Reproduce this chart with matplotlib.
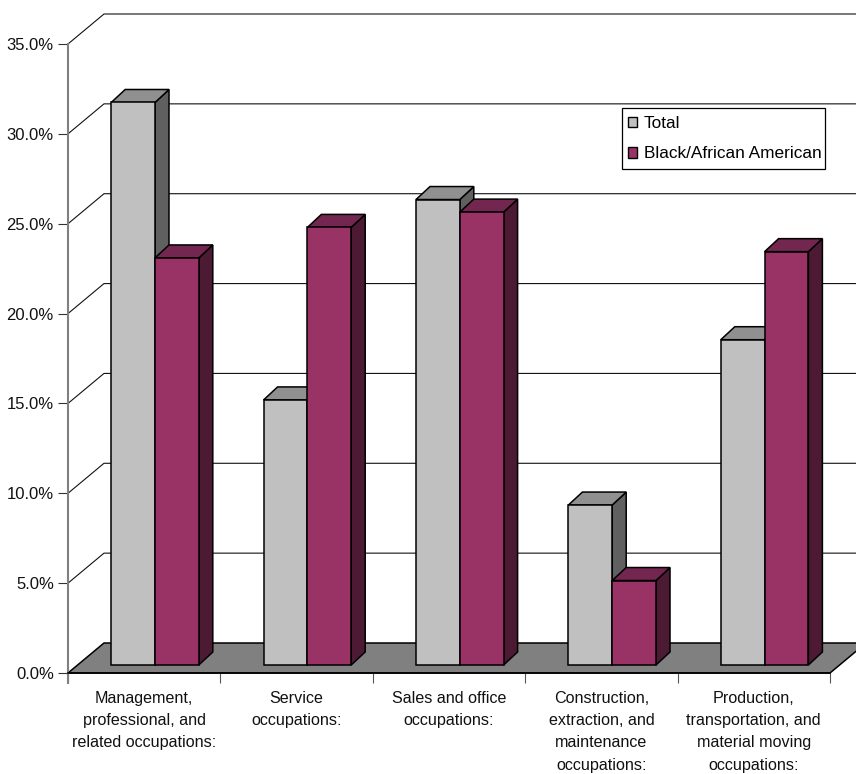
import matplotlib
matplotlib.use('Agg')
import matplotlib.pyplot as plt
from matplotlib.patches import Patch, Polygon, Rectangle

plt.rcParams['font.family'] = ['Liberation Sans', 'DejaVu Sans']

categories = ['Management,\nprofessional, and\nrelated occupations:',
              'Service\noccupations:',
              'Sales and office\noccupations:',
              'Construction,\nextraction, and\nmaintenance\noccupations:',
              'Production,\ntransportation, and\nmaterial moving\noccupations:']
total = [31.3, 14.75, 25.9, 8.9, 18.1]
black = [22.65, 24.35, 25.2, 4.7, 23.0]
yticks = [0, 5, 10, 15, 20, 25, 30, 35]

W, H = 856, 774
fig = plt.figure(figsize=(W / 100, H / 100), dpi=100, facecolor='white')
ax = fig.add_axes([68 / W, (H - 673) / H, (830 - 68) / W, (673 - 44) / H])
ax.set_xlim(0, 5)
ax.set_ylim(0, 35)
ax.patch.set_visible(False)

# pixel sizes turned into data units
ux = (830 - 68) / 5
uy = (673 - 44) / 35
wall_dx, wall_dy = 36 / ux, 30 / uy
base_dx, base_dy = 9.6 / ux, 8 / uy
side_dx, side_dy = 14 / ux, 13 / uy
gap = 33.6 / ux
bw = 43.8 / ux


def poly(pts, fc, ec='black', lw=1.1, z=3):
    ax.add_patch(Polygon(pts, closed=True, facecolor=fc, edgecolor=ec, linewidth=lw,
                         zorder=z, clip_on=False, joinstyle='miter'))


# back wall gridlines
for t in yticks:
    if t > 0:
        ax.plot([0, wall_dx, 5.3], [t, t + wall_dy, t + wall_dy], color='#111111', lw=0.8,
                zorder=1, clip_on=False)

# floor
poly([(0, 0), (wall_dx, wall_dy), (5 + wall_dx, wall_dy), (5, 0)], '#808080', z=2)


def draw_bar(x, v, front, top, side, z):
    y0 = base_dy
    poly([(x + bw, y0), (x + bw + side_dx, y0 + side_dy),
          (x + bw + side_dx, y0 + v + side_dy), (x + bw, y0 + v)], side, z=z)
    poly([(x, y0 + v), (x + side_dx, y0 + v + side_dy),
          (x + bw + side_dx, y0 + v + side_dy), (x + bw, y0 + v)], top, z=z)
    ax.bar(x, v, width=bw, bottom=y0, align='edge', color=front, edgecolor='black',
           linewidth=1.1, zorder=z, clip_on=False)


for i in range(5):
    x = i + base_dx + gap
    draw_bar(x, total[i], '#c0c0c0', '#909090', '#606060', 3 + i * 0.1)
    draw_bar(x + bw, black[i], '#993366', '#732650', '#4d1a33', 3.05 + i * 0.1)

for s in ['top', 'right']:
    ax.spines[s].set_visible(False)
ax.spines['left'].set_color('#808080')
ax.spines['left'].set_linewidth(1.5)
ax.spines['left'].set_bounds(0, 35)
ax.spines['bottom'].set_color('black')
ax.spines['bottom'].set_linewidth(1.2)
ax.spines['bottom'].set_zorder(2.5)

ax.set_yticks(yticks)
ax.set_yticklabels(['%.1f%%' % t for t in yticks], fontsize=12, color='#111111')
ax.tick_params(axis='y', length=7.2, width=0.8, color='#333333', pad=3)
ax.set_xticks(range(6))
ax.set_xticklabels([])
ax.tick_params(axis='x', which='major', length=7.2, width=0.8, color='#555555')
ax.plot([0, 0], [0, -10 / uy], color='#808080', lw=1.5, clip_on=False, zorder=2)
ax.set_xticks([i + 0.5 for i in range(5)], categories, minor=True, fontsize=11.6,
              color='#111111', linespacing=1.6, va='top')
ax.tick_params(axis='x', which='minor', length=0, pad=13)

# legend box is wider than tall padding allows, so the frame is its own patch
fig.add_artist(Rectangle((621.5 / W, 1 - 169 / H), 203.5 / W, 61 / H, transform=fig.transFigure,
                         facecolor='white', edgecolor='black', linewidth=0.9, zorder=5))
handles = [Patch(facecolor='#c0c0c0', edgecolor='black', label='Total'),
           Patch(facecolor='#993366', edgecolor='black', label='Black/African American')]
leg = fig.legend(handles=handles, loc='upper left', bbox_to_anchor=(627.5 / W, 1 - 116 / H),
                 borderaxespad=0, fontsize=12.4, frameon=False,
                 handlelength=0.58, handleheight=0.58, handletextpad=0.35,
                 labelspacing=0.9, borderpad=0)
leg.set_zorder(10)

fig.savefig('out.png', dpi=100)
